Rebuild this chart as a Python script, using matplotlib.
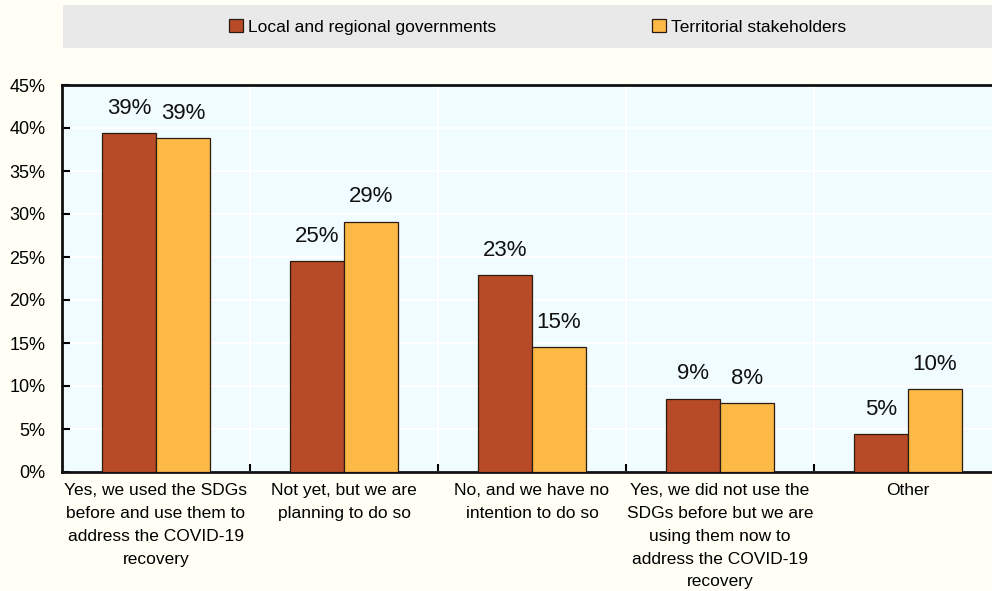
import matplotlib.pyplot as plt
import numpy as np
from matplotlib.patches import Rectangle

categories = [
    "Yes, we used the SDGs\nbefore and use them to\naddress the COVID-19\nrecovery",
    "Not yet, but we are\nplanning to do so",
    "No, and we have no\nintention to do so",
    "Yes, we did not use the\nSDGs before but we are\nusing them now to\naddress the COVID-19\nrecovery",
    "Other",
]
lrg = [39.4, 24.5, 22.9, 8.5, 4.4]
lrg_labels = ["39%", "25%", "23%", "9%", "5%"]
ts = [38.8, 29.1, 14.5, 8.0, 9.6]
ts_labels = ["39%", "29%", "15%", "8%", "10%"]
yticks = [0, 5, 10, 15, 20, 25, 30, 35, 40, 45]

plt.rcParams["font.family"] = ["Liberation Sans", "DejaVu Sans"]

fig = plt.figure(figsize=(9.92, 5.91), dpi=100)
fig.patch.set_facecolor("#FFFFF5")

# grey legend band
fig.patches.append(Rectangle((63 / 992, 1 - 48 / 591), 929 / 992, 43 / 591,
                             transform=fig.transFigure, facecolor="#E9E9E9",
                             edgecolor="none", zorder=0))

ax = fig.add_axes([62 / 992, 1 - 472 / 591, 940 / 992, 387 / 591])
ax.set_facecolor("#F0FCFF")

x = np.arange(len(categories))
w = 0.287
b1 = ax.bar(x - w / 2, lrg, w, color="#B84B27", edgecolor="#2a1a10", linewidth=0.9,
            label="Local and regional governments", zorder=3)
b2 = ax.bar(x + w / 2, ts, w, color="#FDB946", edgecolor="#2a1a10", linewidth=0.9,
            label="Territorial stakeholders", zorder=3)

for bars, labs in ((b1, lrg_labels), (b2, ts_labels)):
    for bar, lab in zip(bars, labs):
        ax.annotate(lab, (bar.get_x() + bar.get_width() / 2, bar.get_height()),
                    xytext=(0, 14), textcoords="offset points",
                    ha="center", va="baseline", fontsize=16, color="#111111")

ax.set_xlim(-0.5, 4.5)
ax.set_ylim(0, 45)
ax.set_yticks(yticks)
ax.set_yticklabels([f"{v}%" for v in yticks])
ax.set_xticks(x)
ax.set_xticklabels(categories, fontsize=12.5, linespacing=1.65)
ax.set_xticks(np.arange(0.5, 4.5, 1), minor=True)
ax.tick_params(axis="x", which="major", length=0, pad=8)
ax.tick_params(axis="x", which="minor", direction="in", length=6, width=1.5)
ax.tick_params(axis="y", direction="in", length=6, width=1.5, labelsize=13, pad=12)

ax.yaxis.grid(True, color="white", linewidth=1.5, zorder=0)
ax.xaxis.grid(True, which="minor", color="white", linewidth=1.5, zorder=0)
ax.set_axisbelow(True)
for s in ("top", "left", "bottom"):
    ax.spines[s].set_linewidth(2)
    ax.spines[s].set_color("#111111")
ax.spines["right"].set_visible(False)

fig.legend(handles=[b1, b2], loc="center", bbox_to_anchor=(0.542, 1 - 27 / 591),
           ncol=2, frameon=False, fontsize=12.5, columnspacing=9,
           handlelength=0.8, handleheight=0.8, handletextpad=0.3)

fig.savefig("out.png", dpi=100, facecolor=fig.get_facecolor())
